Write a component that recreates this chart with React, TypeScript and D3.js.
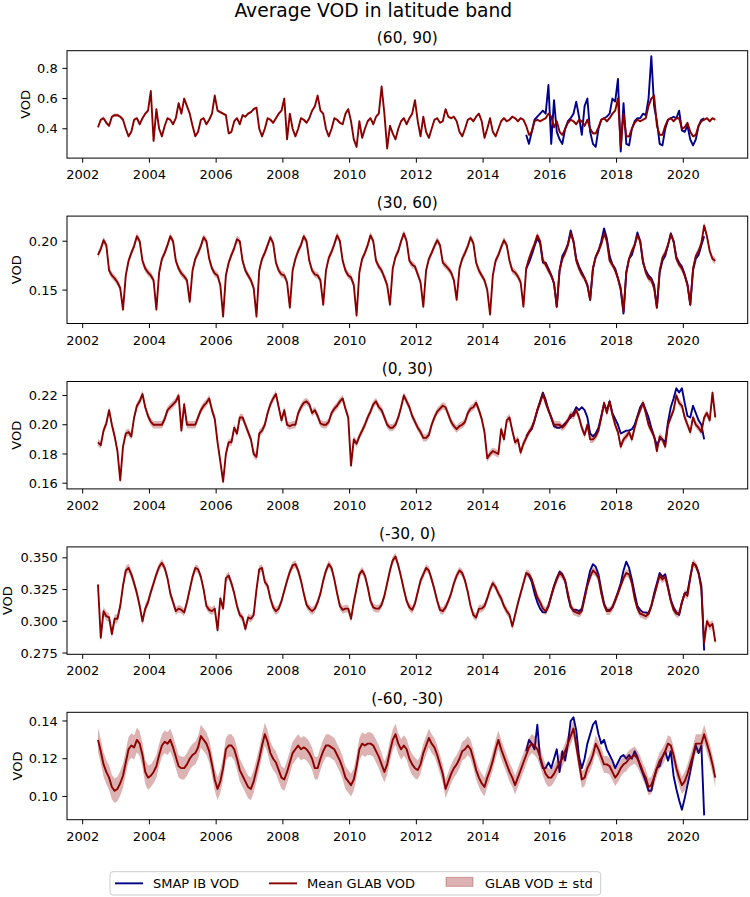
import React from 'react';
import * as d3 from 'd3';

// ---------- chart text ----------
const MAIN_TITLE = 'Average VOD in latitude band';
const PANEL_TITLES = ['(60, 90)', '(30, 60)', '(0, 30)', '(-30, 0)', '(-60, -30)'];
const Y_LABEL = 'VOD';
const LEGEND_LABELS = ['SMAP IB VOD', 'Mean GLAB VOD', 'GLAB VOD ± std'];

// ---------- axes ----------
const X_DOMAIN = [2001.53, 2021.93];
const X_TICKS = [2002, 2004, 2006, 2008, 2010, 2012, 2014, 2016, 2018, 2020];
const Y_DOMAINS = [
  [0.206, 0.917],
  [0.1158, 0.2257],
  [0.1561, 0.2296],
  [0.274, 0.3586],
  [0.0877, 0.1446],
];
const Y_TICKS = [
  [0.4, 0.6, 0.8],
  [0.15, 0.2],
  [0.16, 0.18, 0.2, 0.22],
  [0.275, 0.3, 0.325, 0.35],
  [0.1, 0.12, 0.14],
];
const Y_TICK_DECIMALS = [1, 2, 2, 3, 2];

// ---------- time bases (monthly series) ----------
const GLAB_START_YEAR = 2002;
const GLAB_START_MONTH = 6; // June 2002 .. Dec 2020
const SMAP_START_YEAR = 2015;
const SMAP_START_MONTH = 4; // April 2015 .. Aug 2020
const STD_START_YEAR = 2002;

// ---------- (60, 90) ----------
const glab_60_90 = [
  0.41, 0.46, 0.47, 0.44, 0.42, 0.48, 0.49,
  0.49, 0.48, 0.46, 0.40, 0.35, 0.38, 0.46, 0.47, 0.43, 0.47, 0.50, 0.52,
  0.65, 0.32, 0.53, 0.40, 0.35, 0.42, 0.47, 0.46, 0.43, 0.47, 0.57, 0.50,
  0.60, 0.55, 0.50, 0.42, 0.35, 0.38, 0.46, 0.47, 0.43, 0.46, 0.50, 0.62,
  0.52, 0.51, 0.50, 0.49, 0.37, 0.38, 0.45, 0.47, 0.43, 0.49, 0.48, 0.50,
  0.51, 0.53, 0.54, 0.40, 0.35, 0.40, 0.47, 0.46, 0.44, 0.47, 0.50, 0.52,
  0.60, 0.33, 0.50, 0.40, 0.35, 0.40, 0.47, 0.46, 0.44, 0.47, 0.52, 0.55,
  0.62, 0.52, 0.50, 0.40, 0.35, 0.40, 0.47, 0.46, 0.44, 0.43, 0.50, 0.53,
  0.45, 0.33, 0.28, 0.45, 0.34, 0.40, 0.45, 0.47, 0.43, 0.48, 0.50, 0.68,
  0.50, 0.27, 0.42, 0.37, 0.33, 0.40, 0.45, 0.47, 0.43, 0.47, 0.50, 0.59,
  0.45, 0.35, 0.48, 0.38, 0.34, 0.40, 0.46, 0.47, 0.44, 0.45, 0.53, 0.48,
  0.47, 0.48, 0.45, 0.38, 0.35, 0.40, 0.46, 0.47, 0.45, 0.48, 0.50, 0.45,
  0.34, 0.40, 0.47, 0.38, 0.35, 0.40, 0.45, 0.47, 0.45, 0.46, 0.48, 0.47,
  0.45, 0.47, 0.46, 0.42, 0.36, 0.38, 0.45, 0.46, 0.45, 0.46, 0.47, 0.50,
  0.48, 0.41, 0.45, 0.38, 0.36, 0.40, 0.44, 0.46, 0.45, 0.43, 0.46, 0.45,
  0.42, 0.46, 0.40, 0.37, 0.37, 0.41, 0.46, 0.47, 0.45, 0.47, 0.50, 0.52,
  0.60, 0.28, 0.50, 0.35, 0.35, 0.40, 0.44, 0.46, 0.45, 0.46, 0.47, 0.55,
  0.60, 0.62, 0.42, 0.36, 0.36, 0.42, 0.46, 0.47, 0.45, 0.47, 0.47, 0.40,
  0.41, 0.44, 0.38, 0.35, 0.36, 0.42, 0.45, 0.46, 0.47, 0.45, 0.47, 0.46,
];
const smap_60_90 = [
  0.36, 0.30, 0.38, 0.46, 0.48, 0.50, 0.52, 0.50, 0.69,
  0.30, 0.59, 0.38, 0.33, 0.30, 0.40, 0.45, 0.47, 0.50, 0.58, 0.48, 0.36,
  0.55, 0.60, 0.38, 0.30, 0.28, 0.40, 0.46, 0.47, 0.48, 0.50, 0.60, 0.58,
  0.73, 0.25, 0.57, 0.30, 0.29, 0.40, 0.45, 0.47, 0.47, 0.50, 0.49, 0.60,
  0.88, 0.55, 0.45, 0.30, 0.29, 0.40, 0.46, 0.47, 0.48, 0.47, 0.52, 0.39,
  0.38, 0.42, 0.33, 0.29, 0.33, 0.42, 0.46, 0.47,
];
const std_60_90 = [0.011, 0.011, 0.009, 0.009, 0.009, 0.009, 0.009, 0.009, 0.01, 0.009, 0.009, 0.009, 0.009, 0.009, 0.009, 0.009, 0.009, 0.009, 0.009];

// ---------- (30, 60) ----------
const glab_30_60 = [
  0.186, 0.192, 0.201, 0.196, 0.170, 0.165, 0.162,
  0.158, 0.152, 0.130, 0.165, 0.180, 0.188, 0.195, 0.205, 0.200, 0.180, 0.172, 0.168,
  0.165, 0.160, 0.130, 0.168, 0.182, 0.188, 0.196, 0.205, 0.200, 0.180, 0.172, 0.167,
  0.164, 0.160, 0.138, 0.170, 0.182, 0.188, 0.195, 0.204, 0.200, 0.182, 0.172, 0.167,
  0.165, 0.155, 0.123, 0.165, 0.178, 0.186, 0.193, 0.202, 0.200, 0.180, 0.170, 0.165,
  0.160, 0.152, 0.123, 0.170, 0.182, 0.188, 0.196, 0.204, 0.198, 0.178, 0.170, 0.166,
  0.165, 0.158, 0.132, 0.170, 0.182, 0.190, 0.196, 0.205, 0.200, 0.180, 0.170, 0.166,
  0.165, 0.160, 0.135, 0.170, 0.183, 0.189, 0.197, 0.206, 0.200, 0.180, 0.170, 0.165,
  0.163, 0.155, 0.124, 0.168, 0.182, 0.188, 0.196, 0.206, 0.200, 0.180, 0.174, 0.170,
  0.163, 0.155, 0.135, 0.172, 0.184, 0.190, 0.200, 0.208, 0.200, 0.180, 0.176, 0.174,
  0.166, 0.158, 0.133, 0.170, 0.182, 0.188, 0.195, 0.201, 0.196, 0.178, 0.175, 0.172,
  0.168, 0.160, 0.140, 0.172, 0.182, 0.188, 0.195, 0.204, 0.198, 0.178, 0.170, 0.165,
  0.160, 0.150, 0.125, 0.165, 0.180, 0.186, 0.194, 0.201, 0.196, 0.180, 0.170, 0.168,
  0.164, 0.158, 0.133, 0.172, 0.182, 0.190, 0.197, 0.206, 0.200, 0.180, 0.176, 0.170,
  0.165, 0.157, 0.133, 0.170, 0.182, 0.188, 0.196, 0.208, 0.200, 0.180, 0.172, 0.166,
  0.162, 0.155, 0.140, 0.172, 0.184, 0.190, 0.197, 0.208, 0.200, 0.180, 0.176, 0.170,
  0.162, 0.152, 0.128, 0.168, 0.182, 0.190, 0.196, 0.206, 0.200, 0.180, 0.168, 0.162,
  0.160, 0.152, 0.132, 0.170, 0.183, 0.188, 0.196, 0.207, 0.200, 0.182, 0.176, 0.172,
  0.165, 0.155, 0.135, 0.172, 0.185, 0.190, 0.198, 0.216, 0.205, 0.190, 0.182, 0.180,
];
const smap_30_60 = [
  0.172, 0.178, 0.186, 0.195, 0.203, 0.198, 0.178, 0.178, 0.172,
  0.165, 0.157, 0.133, 0.170, 0.185, 0.190, 0.197, 0.211, 0.200, 0.182, 0.174, 0.168,
  0.162, 0.155, 0.140, 0.172, 0.184, 0.190, 0.200, 0.213, 0.203, 0.185, 0.176, 0.172,
  0.162, 0.150, 0.126, 0.168, 0.182, 0.186, 0.196, 0.209, 0.200, 0.178, 0.170, 0.165,
  0.162, 0.155, 0.132, 0.168, 0.180, 0.185, 0.196, 0.208, 0.200, 0.184, 0.178, 0.174,
  0.166, 0.156, 0.135, 0.170, 0.182, 0.186, 0.196, 0.205,
];
const std_30_60 = [0.0035, 0.0035, 0.0035, 0.0035, 0.0035, 0.0035, 0.0035, 0.0035, 0.0035, 0.0035, 0.0035, 0.0035, 0.0035, 0.0035, 0.0035, 0.0035, 0.0035, 0.0035, 0.0035];

// ---------- (0, 30) ----------
const glab_0_30 = [
  0.188, 0.186, 0.196, 0.201, 0.210, 0.200, 0.192,
  0.182, 0.162, 0.185, 0.194, 0.195, 0.192, 0.205, 0.213, 0.216, 0.221, 0.212, 0.206,
  0.202, 0.200, 0.200, 0.200, 0.200, 0.204, 0.210, 0.212, 0.214, 0.216, 0.220, 0.196,
  0.214, 0.200, 0.200, 0.200, 0.200, 0.205, 0.210, 0.213, 0.215, 0.218, 0.210, 0.204,
  0.188, 0.175, 0.161, 0.180, 0.188, 0.188, 0.198, 0.194, 0.205, 0.205, 0.200, 0.195,
  0.190, 0.180, 0.178, 0.194, 0.196, 0.200, 0.208, 0.214, 0.218, 0.221, 0.212, 0.203,
  0.210, 0.200, 0.199, 0.200, 0.200, 0.208, 0.212, 0.215, 0.216, 0.214, 0.208, 0.210,
  0.206, 0.201, 0.200, 0.200, 0.202, 0.208, 0.211, 0.213, 0.216, 0.218, 0.211, 0.205,
  0.172, 0.190, 0.187, 0.192, 0.196, 0.200, 0.205, 0.209, 0.214, 0.216, 0.212, 0.210,
  0.205, 0.200, 0.198, 0.198, 0.200, 0.205, 0.212, 0.220, 0.216, 0.212, 0.206, 0.202,
  0.198, 0.195, 0.191, 0.191, 0.193, 0.200, 0.205, 0.209, 0.211, 0.213, 0.212, 0.207,
  0.202, 0.199, 0.197, 0.199, 0.200, 0.202, 0.208, 0.211, 0.212, 0.215, 0.210, 0.204,
  0.195, 0.177, 0.180, 0.182, 0.181, 0.180, 0.197, 0.190, 0.203, 0.205, 0.196, 0.188,
  0.190, 0.181, 0.187, 0.191, 0.195, 0.198, 0.203, 0.210, 0.215, 0.221, 0.215, 0.210,
  0.205, 0.200, 0.200, 0.200, 0.198, 0.200, 0.203, 0.207, 0.206, 0.210, 0.205, 0.198,
  0.193, 0.200, 0.190, 0.190, 0.192, 0.196, 0.205, 0.215, 0.208, 0.216, 0.207, 0.200,
  0.195, 0.185, 0.190, 0.192, 0.195, 0.190, 0.198, 0.205, 0.210, 0.215, 0.208, 0.200,
  0.196, 0.192, 0.182, 0.192, 0.190, 0.185, 0.200, 0.205, 0.210, 0.220, 0.215, 0.213,
  0.205, 0.200, 0.195, 0.205, 0.200, 0.198, 0.195, 0.205, 0.208, 0.203, 0.222, 0.205,
];
const smap_0_30 = [
  0.192, 0.195, 0.197, 0.203, 0.210, 0.216, 0.222, 0.217, 0.210,
  0.205, 0.199, 0.198, 0.198, 0.199, 0.201, 0.203, 0.205, 0.208, 0.212, 0.210, 0.212,
  0.210, 0.205, 0.194, 0.192, 0.194, 0.198, 0.206, 0.214, 0.210, 0.216, 0.208, 0.204,
  0.200, 0.194, 0.195, 0.196, 0.196, 0.197, 0.200, 0.206, 0.212, 0.215, 0.210, 0.205,
  0.198, 0.192, 0.186, 0.190, 0.190, 0.188, 0.202, 0.212, 0.218, 0.225, 0.222, 0.225,
  0.215, 0.206, 0.205, 0.213, 0.208, 0.203, 0.200, 0.190,
];
const std_0_30 = [0.0025, 0.0025, 0.0025, 0.0025, 0.0025, 0.0025, 0.0025, 0.0025, 0.0025, 0.0025, 0.0025, 0.0025, 0.0025, 0.0025, 0.0025, 0.0025, 0.0025, 0.0025, 0.0025];

// ---------- (-30, 0) ----------
const glab_m30_0 = [
  0.329, 0.287, 0.308, 0.304, 0.303, 0.290, 0.302,
  0.302, 0.312, 0.328, 0.340, 0.342, 0.337, 0.330, 0.322, 0.312, 0.300, 0.310, 0.315,
  0.323, 0.330, 0.337, 0.343, 0.346, 0.342, 0.334, 0.322, 0.315, 0.308, 0.310, 0.309,
  0.307, 0.315, 0.325, 0.335, 0.342, 0.341, 0.335, 0.325, 0.312, 0.309, 0.308, 0.310,
  0.293, 0.318, 0.310, 0.334, 0.336, 0.330, 0.322, 0.312, 0.305, 0.303, 0.294, 0.303,
  0.302, 0.305, 0.325, 0.341, 0.342, 0.331, 0.328, 0.318, 0.311, 0.308, 0.310, 0.316,
  0.324, 0.332, 0.339, 0.344, 0.345, 0.340, 0.332, 0.322, 0.313, 0.310, 0.308, 0.310,
  0.315, 0.322, 0.332, 0.340, 0.345, 0.342, 0.333, 0.322, 0.312, 0.309, 0.310, 0.310,
  0.302, 0.315, 0.326, 0.337, 0.340, 0.336, 0.327, 0.316, 0.311, 0.310, 0.310, 0.313,
  0.320, 0.330, 0.340, 0.348, 0.351, 0.344, 0.335, 0.325, 0.316, 0.311, 0.309, 0.314,
  0.323, 0.332, 0.337, 0.342, 0.340, 0.333, 0.325, 0.316, 0.309, 0.308, 0.311, 0.316,
  0.322, 0.330, 0.336, 0.340, 0.338, 0.332, 0.323, 0.312, 0.305, 0.303, 0.310, 0.310,
  0.312, 0.318, 0.325, 0.330, 0.327, 0.322, 0.318, 0.312, 0.308, 0.305, 0.296, 0.305,
  0.314, 0.322, 0.330, 0.338, 0.337, 0.333, 0.326, 0.319, 0.315, 0.310, 0.308, 0.312,
  0.320, 0.327, 0.333, 0.338, 0.336, 0.332, 0.322, 0.312, 0.308, 0.307, 0.306, 0.308,
  0.318, 0.328, 0.335, 0.340, 0.338, 0.334, 0.322, 0.313, 0.308, 0.308, 0.311, 0.316,
  0.322, 0.328, 0.334, 0.338, 0.337, 0.330, 0.318, 0.310, 0.306, 0.305, 0.304, 0.306,
  0.312, 0.320, 0.328, 0.336, 0.333, 0.335, 0.326, 0.316, 0.309, 0.306, 0.306, 0.315,
  0.322, 0.320, 0.334, 0.346, 0.344, 0.338, 0.325, 0.283, 0.300, 0.296, 0.298, 0.284,
];
const smap_m30_0 = [
  0.338, 0.336, 0.331, 0.322, 0.315, 0.310, 0.307, 0.307, 0.312,
  0.320, 0.328, 0.334, 0.339, 0.337, 0.332, 0.320, 0.311, 0.309, 0.309, 0.308, 0.310,
  0.320, 0.330, 0.340, 0.345, 0.343, 0.337, 0.325, 0.314, 0.309, 0.309, 0.311, 0.317,
  0.323, 0.330, 0.340, 0.347, 0.342, 0.333, 0.322, 0.312, 0.309, 0.307, 0.307, 0.306,
  0.312, 0.322, 0.330, 0.338, 0.335, 0.337, 0.327, 0.317, 0.311, 0.307, 0.305, 0.315,
  0.322, 0.323, 0.335, 0.346, 0.344, 0.338, 0.328, 0.277,
];
const std_m30_0 = [0.0035, 0.0035, 0.003, 0.003, 0.003, 0.003, 0.003, 0.003, 0.003, 0.003, 0.003, 0.003, 0.003, 0.003, 0.003, 0.003, 0.003, 0.003, 0.003];

// ---------- (-60, -30) ----------
const glab_m60_m30 = [
  0.130, 0.124, 0.117, 0.113, 0.110, 0.105, 0.103,
  0.104, 0.107, 0.111, 0.118, 0.125, 0.127, 0.126, 0.130, 0.128, 0.122, 0.113, 0.110,
  0.111, 0.113, 0.116, 0.122, 0.127, 0.129, 0.128, 0.130, 0.126, 0.121, 0.116, 0.115,
  0.115, 0.117, 0.120, 0.122, 0.123, 0.126, 0.132, 0.130, 0.128, 0.124, 0.117, 0.109,
  0.104, 0.108, 0.115, 0.125, 0.127, 0.127, 0.125, 0.120, 0.114, 0.111, 0.108, 0.105,
  0.104, 0.108, 0.114, 0.120, 0.127, 0.133, 0.129, 0.123, 0.120, 0.118, 0.114, 0.110,
  0.109, 0.113, 0.118, 0.123, 0.125, 0.127, 0.125, 0.126, 0.125, 0.123, 0.120, 0.115,
  0.115, 0.120, 0.124, 0.127, 0.127, 0.126, 0.125, 0.122, 0.119, 0.115, 0.110, 0.108,
  0.106, 0.109, 0.116, 0.125, 0.128, 0.127, 0.128, 0.128, 0.127, 0.124, 0.121, 0.117,
  0.113, 0.117, 0.124, 0.130, 0.133, 0.128, 0.125, 0.127, 0.125, 0.120, 0.117, 0.115,
  0.114, 0.117, 0.123, 0.127, 0.131, 0.128, 0.126, 0.122, 0.117, 0.112, 0.104, 0.108,
  0.112, 0.115, 0.117, 0.120, 0.124, 0.125, 0.127, 0.125, 0.120, 0.114, 0.110, 0.107,
  0.105, 0.110, 0.114, 0.119, 0.125, 0.130, 0.125, 0.121, 0.117, 0.113, 0.110, 0.106,
  0.110, 0.114, 0.118, 0.122, 0.126, 0.128, 0.127, 0.125, 0.121, 0.116, 0.112, 0.110,
  0.110, 0.112, 0.115, 0.118, 0.120, 0.124, 0.128, 0.132, 0.136, 0.127, 0.118, 0.109,
  0.110, 0.115, 0.118, 0.122, 0.128, 0.125, 0.121, 0.117, 0.117, 0.116, 0.113, 0.110,
  0.112, 0.115, 0.117, 0.118, 0.120, 0.121, 0.122, 0.120, 0.117, 0.113, 0.110, 0.105,
  0.106, 0.110, 0.115, 0.119, 0.121, 0.124, 0.128, 0.127, 0.122, 0.115, 0.110, 0.106,
  0.108, 0.112, 0.117, 0.122, 0.128, 0.128, 0.128, 0.133, 0.128, 0.123, 0.117, 0.110,
];
const smap_m60_m30 = [
  0.124, 0.130, 0.128, 0.125, 0.138, 0.120, 0.115, 0.115, 0.118,
  0.115, 0.120, 0.125, 0.113, 0.124, 0.119, 0.128, 0.140, 0.142, 0.135, 0.121, 0.115,
  0.120, 0.128, 0.133, 0.138, 0.140, 0.133, 0.128, 0.130, 0.125, 0.122, 0.119, 0.115,
  0.118, 0.121, 0.122, 0.120, 0.122, 0.120, 0.124, 0.121, 0.116, 0.112, 0.108, 0.103,
  0.103, 0.110, 0.115, 0.116, 0.121, 0.124, 0.119, 0.124, 0.111, 0.104, 0.098, 0.093,
  0.099, 0.106, 0.113, 0.121, 0.127, 0.123, 0.127, 0.090,
];
const std_m60_m30 = [0.0065, 0.0065, 0.006, 0.006, 0.006, 0.006, 0.006, 0.006, 0.006, 0.0055, 0.005, 0.005, 0.005, 0.005, 0.0045, 0.0045, 0.0045, 0.0045, 0.005];

const GLAB_SERIES = [glab_60_90, glab_30_60, glab_0_30, glab_m30_0, glab_m60_m30];
const SMAP_SERIES = [smap_60_90, smap_30_60, smap_0_30, smap_m30_0, smap_m60_m30];
const STD_SERIES = [std_60_90, std_30_60, std_0_30, std_m30_0, std_m60_m30];

// ---------- styling / layout ----------
const W = 750;
const H = 897;
const FONT = 'DejaVu Sans, sans-serif';
const RED = '#8b0000';
const BLUE = '#00008b';
const AX_L = 67;
const AX_R = 747.7;
const AX_TOP0 = 50.7;
const AX_STEP = 165.4;
const AX_H = 107.4;
const TICK_LEN = 4.6;
const Y_LABEL_X = [30, 21, 21, 12, 21.5];

type Pt = { t: number; v: number; s?: number };

const monthTime = (y0: number, m0: number, i: number) => y0 + (m0 - 1 + i + 0.5) / 12;

function Panel({ idx }: { idx: number }) {
  const top = AX_TOP0 + idx * AX_STEP;
  const bottom = top + AX_H;
  const x = d3.scaleLinear().domain(X_DOMAIN).range([AX_L, AX_R]);
  const y = d3.scaleLinear().domain(Y_DOMAINS[idx]).range([bottom, top]);

  const stds = STD_SERIES[idx];
  const glab: Pt[] = GLAB_SERIES[idx].map((v, i) => {
    const t = monthTime(GLAB_START_YEAR, GLAB_START_MONTH, i);
    const yi = Math.min(stds.length - 1, Math.max(0, Math.floor(t) - STD_START_YEAR));
    return { t, v, s: stds[yi] };
  });
  const smap: Pt[] = SMAP_SERIES[idx].map((v, i) => ({
    t: monthTime(SMAP_START_YEAR, SMAP_START_MONTH, i),
    v,
  }));

  const line = d3
    .line<Pt>()
    .x((d) => x(d.t))
    .y((d) => y(d.v));
  const area = d3
    .area<Pt>()
    .x((d) => x(d.t))
    .y0((d) => y(d.v - (d.s || 0)))
    .y1((d) => y(d.v + (d.s || 0)));

  const fmt = d3.format(`.${Y_TICK_DECIMALS[idx]}f`);
  const midY = (top + bottom) / 2;

  return (
    <g>
      <text
        x={(AX_L + AX_R) / 2}
        y={top - 8}
        textAnchor="middle"
        fontSize={15.4}
        fontFamily={FONT}
        fill="#000"
      >
        {PANEL_TITLES[idx]}
      </text>
      <path d={line(smap) || ''} fill="none" stroke={BLUE} strokeWidth={1.9} strokeLinejoin="round" />
      <path d={line(glab) || ''} fill="none" stroke={RED} strokeWidth={1.9} strokeLinejoin="round" />
      <path d={area(glab) || ''} fill={RED} fillOpacity={0.3} stroke="none" />
      <rect x={AX_L} y={top} width={AX_R - AX_L} height={AX_H} fill="none" stroke="#000" strokeWidth={1} />
      {X_TICKS.map((t) => (
        <g key={t}>
          <line x1={x(t)} x2={x(t)} y1={bottom} y2={bottom + TICK_LEN} stroke="#000" strokeWidth={1} />
          <text x={x(t)} y={bottom + 21} textAnchor="middle" fontSize={13} fontFamily={FONT} fill="#000">
            {t}
          </text>
        </g>
      ))}
      {Y_TICKS[idx].map((t) => (
        <g key={t}>
          <line x1={AX_L - TICK_LEN} x2={AX_L} y1={y(t)} y2={y(t)} stroke="#000" strokeWidth={1} />
          <text
            x={AX_L - TICK_LEN - 4.6}
            y={y(t)}
            dy="0.36em"
            textAnchor="end"
            fontSize={13}
            fontFamily={FONT}
            fill="#000"
          >
            {fmt(t)}
          </text>
        </g>
      ))}
      <text
        transform={`translate(${Y_LABEL_X[idx]}, ${midY}) rotate(-90)`}
        textAnchor="middle"
        fontSize={13}
        fontFamily={FONT}
        fill="#000"
      >
        {Y_LABEL}
      </text>
    </g>
  );
}

function Legend() {
  const lx = 110;
  const ly = 871.7;
  const lw = 490.7;
  const lh = 23.3;
  const cy = ly + lh / 2;
  const items = [
    { kind: 'line', color: BLUE, x0: 115, tx: 153 },
    { kind: 'line', color: RED, x0: 269, tx: 307 },
    { kind: 'patch', color: RED, x0: 446, tx: 485 },
  ];
  return (
    <g>
      <rect x={lx} y={ly} width={lw} height={lh} rx={3} fill="#fff" fillOpacity={0.8} stroke="#cccccc" strokeWidth={1} />
      {items.map((it, i) => (
        <g key={i}>
          {it.kind === 'line' ? (
            <line x1={it.x0} x2={it.x0 + 28} y1={cy} y2={cy} stroke={it.color} strokeWidth={1.9} />
          ) : (
            <rect
              x={it.x0}
              y={cy - 6}
              width={27}
              height={9}
              fill={it.color}
              fillOpacity={0.3}
              stroke={it.color}
              strokeOpacity={0.3}
            />
          )}
          <text x={it.tx} y={cy} dy="0.36em" fontSize={13} fontFamily={FONT} fill="#000">
            {LEGEND_LABELS[i]}
          </text>
        </g>
      ))}
    </g>
  );
}

export default function App() {
  return (
    <svg
      width={W}
      height={H}
      viewBox={`0 0 ${W} ${H}`}
      style={{ position: 'absolute', left: 0, top: 0, background: '#fff' }}
    >
      <rect x={0} y={0} width={W} height={H} fill="#fff" />
      <text x={373.3} y={17} textAnchor="middle" fontSize={18.7} fontFamily={FONT} fill="#000">
        {MAIN_TITLE}
      </text>
      {PANEL_TITLES.map((_, i) => (
        <Panel key={i} idx={i} />
      ))}
      <Legend />
    </svg>
  );
}
